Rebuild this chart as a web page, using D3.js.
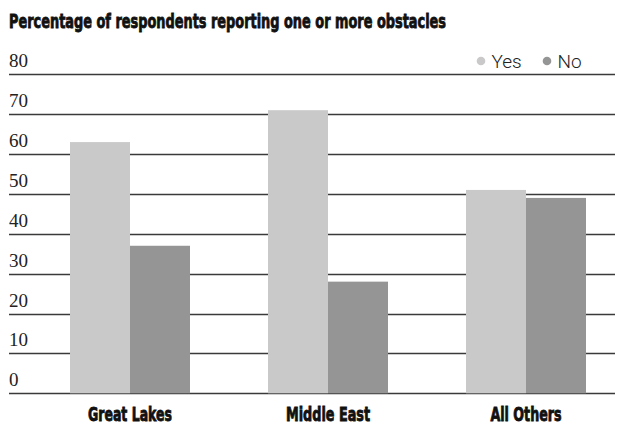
<!DOCTYPE html>
<html>
<head>
<meta charset="utf-8">
<script src="https://cdn.jsdelivr.net/npm/d3@7"></script>
<style>
  html, body { margin: 0; padding: 0; background: #fff; }
  svg { display: block; }
</style>
</head>
<body>
<svg id="chart" width="621" height="428"></svg>
<script>
// Survey results: share of respondents reporting one or more obstacles
const categories = ["Great Lakes", "Middle East", "All Others"];
const seriesNames = ["Yes", "No"];
const yesValues = [63, 71, 51];
const noValues = [37, 28, 49];
const yTicks = [0, 10, 20, 30, 40, 50, 60, 70, 80];
const categoryLabelWidths = [84, 84, 71];

const colors = { Yes: "#c9c9c9", No: "#959595" };

const rows = categories.map((c, i) => ({ category: c, Yes: yesValues[i], No: noValues[i] }));

const svg = d3.select("#chart");
const gridLeft = 9, gridRight = 615;
const heavyFont = "'DejaVu Sans Condensed', 'Liberation Sans Narrow', sans-serif";

const y = d3.scaleLinear().domain([0, 80]).range([393.3, 74.3]);

const x0 = d3.scaleBand()
  .domain(categories)
  .range([31, 625])
  .paddingInner(0.394)
  .paddingOuter(0.197);

const x1 = d3.scaleBand()
  .domain(seriesNames)
  .range([0, x0.bandwidth()]);

// Title (heavy condensed look via bold face plus a thin outline)
svg.append("text")
  .attr("x", 9)
  .attr("y", 27.5)
  .attr("textLength", 437)
  .attr("lengthAdjust", "spacingAndGlyphs")
  .style("font-family", heavyFont)
  .style("font-weight", "bold")
  .style("font-size", "19px")
  .style("fill", "#111")
  .style("stroke", "#111")
  .style("stroke-width", "0.8px")
  .text("Percentage of respondents reporting one or more obstacles");

// Horizontal gridlines with value labels above them
const grid = svg.append("g").attr("class", "grid");
grid.selectAll("line")
  .data(yTicks)
  .join("line")
  .attr("x1", gridLeft)
  .attr("x2", gridRight)
  .attr("y1", d => Math.round(y(d)) + 0.5)
  .attr("y2", d => Math.round(y(d)) + 0.5)
  .attr("stroke", "#3a3a3a")
  .attr("stroke-width", 1.4);

grid.selectAll("text")
  .data(yTicks)
  .join("text")
  .attr("x", 9)
  .attr("y", d => y(d) - 7)
  .style("font-family", "'Liberation Serif', 'DejaVu Serif', serif")
  .style("font-size", "19px")
  .style("fill", "#222")
  .text(d => d);

// Bars
const groups = svg.append("g")
  .selectAll("g")
  .data(rows)
  .join("g")
  .attr("transform", d => `translate(${x0(d.category)},0)`);

groups.selectAll("rect")
  .data(d => seriesNames.map(k => ({ key: k, value: d[k] })))
  .join("rect")
  .attr("x", d => x1(d.key))
  .attr("width", x1.bandwidth())
  .attr("y", d => y(d.value))
  .attr("height", d => y(0) - y(d.value))
  .attr("fill", d => colors[d.key]);

// Category labels
svg.append("g")
  .selectAll("text")
  .data(categories)
  .join("text")
  .attr("x", (d, i) => x0(d) + x0.bandwidth() / 2 - categoryLabelWidths[i] / 2)
  .attr("y", 420.5)
  .attr("textLength", (d, i) => categoryLabelWidths[i])
  .attr("lengthAdjust", "spacingAndGlyphs")
  .style("font-family", heavyFont)
  .style("font-weight", "bold")
  .style("font-size", "19px")
  .style("fill", "#111")
  .style("stroke", "#111")
  .style("stroke-width", "0.8px")
  .text(d => d);

// Legend
const legendX = [481, 547];
const legend = svg.append("g")
  .selectAll("g")
  .data(seriesNames)
  .join("g")
  .attr("transform", (d, i) => `translate(${legendX[i]},61)`);

legend.append("circle")
  .attr("r", 4.3)
  .attr("fill", d => colors[d]);

legend.append("text")
  .attr("x", 10.5)
  .attr("y", 7.3)
  .style("font-family", "Roboto, 'Liberation Sans', sans-serif")
  .style("font-weight", "300")
  .style("font-size", "19px")
  .style("fill", "#222")
  .text(d => d);
</script>
</body>
</html>
